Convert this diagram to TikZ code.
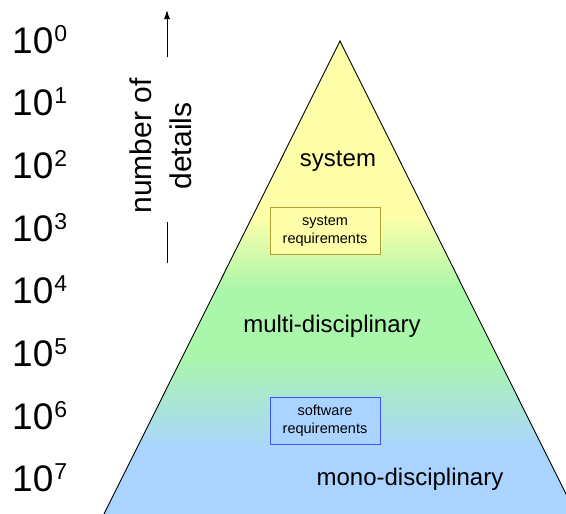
\documentclass[tikz,border=0pt]{standalone}
\usepackage{fontspec}
\setmainfont{Liberation Sans}
\usetikzlibrary{arrows.meta}
\definecolor{pyellow}{RGB}{255,255,170}
\definecolor{pgreen}{RGB}{170,246,170}
\definecolor{pblue}{RGB}{170,212,255}
\definecolor{sysborder}{RGB}{175,160,50}
\definecolor{swborder}{RGB}{60,85,255}
\tikzset{
  px/.style={x=1pt,y=-1pt},
  power/.style={anchor=base west,inner sep=0pt,font=\fontsize{37}{40}\selectfont},
  biglabel/.style={inner sep=0pt,font=\fontsize{24}{28}\selectfont},
  reqbox/.style={draw,line width=0.9pt,minimum width=110pt,minimum height=47pt,inner sep=0pt,align=center,font=\fontsize{14.5}{18}\selectfont},
  axisline/.style={line width=1pt},
}
\newcommand{\pw}[1]{10\hspace{1pt}\raisebox{12pt}{\fontsize{23}{26}\selectfont #1}}
\begin{document}
\begin{tikzpicture}[px]
\useasboundingbox (0,0) rectangle (566,514);
\coordinate (apex) at (340,41);
\coordinate (bl) at (104,514);
\coordinate (br) at (576,514);
\begin{scope}
  \clip (0,0) rectangle (566,514);
  \begin{scope}
    \clip (apex) -- (bl) -- (br) -- cycle;
    \fill[pyellow] (0,30) rectangle (566,215);
    \shade[top color=pyellow,bottom color=pgreen] (0,215) rectangle (566,290);
    \fill[pgreen] (0,290) rectangle (566,355);
    \shade[top color=pgreen,bottom color=pblue] (0,355) rectangle (566,450);
    \fill[pblue] (0,450) rectangle (566,520);
  \end{scope}
  \draw[line width=0.9pt] (bl) -- (apex) -- (br);
\end{scope}
% powers of ten
\foreach \k in {0,...,7}{
  \node[power] (p\k) at (12,{53+62.7*\k}) {\pw{\k}};
}
% axis
\coordinate (a1) at (167,57);
\coordinate (a2) at (167,10);
\coordinate (a3) at (167,222);
\coordinate (a4) at (167,263);
\draw[axisline,-{Latex[length=9pt,width=6pt]}] (a1) -- (a2);
\draw[axisline] (a3) -- (a4);
\node[rotate=90,align=center,inner sep=0pt,font=\fontsize{30}{40}\selectfont] (nd) at (161,146) {number of\\details};
% labels
\node[biglabel] (sys) at (338,161) {system};
\node[biglabel] (multi) at (332,326) {multi-disciplinary};
\node[biglabel] (mono) at (410,479) {mono-disciplinary};
\node[reqbox,draw=sysborder,fill=pyellow] (sr) at (325,231) {system\\requirements};
\node[reqbox,draw=swborder,fill=pblue] (sw) at (325,420.5) {software\\requirements};
\end{tikzpicture}
\end{document}
